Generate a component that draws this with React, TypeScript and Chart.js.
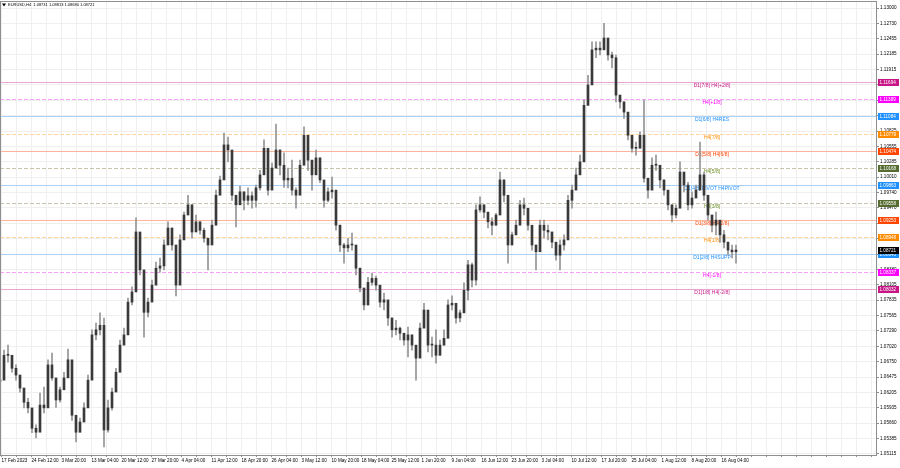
import React, { useEffect, useRef } from 'react';
import { Chart, registerables } from 'chart.js';

Chart.register(...registerables);

const TITLE = 'EURUSD,H4  1.08731 1.08813 1.08680 1.08721';

const TIME_LABELS = [
  '17 Feb 2023', '24 Feb 12:00', '3 Mar 20:00', '13 Mar 04:00', '20 Mar 12:00', '27 Mar 20:00',
  '4 Apr 04:00', '11 Apr 12:00', '18 Apr 20:00', '26 Apr 04:00', '3 May 12:00', '10 May 20:00',
  '18 May 04:00', '25 May 12:00', '1 Jun 20:00', '9 Jun 04:00', '16 Jun 12:00', '23 Jun 20:00',
  '3 Jul 04:00', '10 Jul 12:00', '17 Jul 20:00', '25 Jul 04:00', '1 Aug 12:00', '8 Aug 20:00', '16 Aug 04:00',
];

const PRICE_TICKS = [
  1.13, 1.1273, 1.12455, 1.12185, 1.11915, 1.11645, 1.1137, 1.111, 1.10825, 1.10555, 1.10285,
  1.1001, 1.0974, 1.0947, 1.09195, 1.08925, 1.0865, 1.0838, 1.08105, 1.07835, 1.07565, 1.0729,
  1.0702, 1.0675, 1.06475, 1.06205, 1.05935, 1.0566, 1.05385, 1.05115,
];

const FIRST_OPEN = 1.064;

const HIGHS = [
  1.0655, 1.0695, 1.0704, 1.0686, 1.0669, 1.0651, 1.0628, 1.061, 1.0589, 1.0563,
  1.0619, 1.063, 1.0678, 1.069, 1.0642, 1.063, 1.0656, 1.0697, 1.0672, 1.0563,
  1.0575, 1.0602, 1.0651, 1.0731, 1.0743, 1.0761, 1.0752, 1.0607, 1.0628, 1.0663,
  1.0713, 1.0734, 1.0787, 1.0807, 1.0929, 1.089, 1.0775, 1.0787, 1.0819, 1.0851,
  1.0858, 1.089, 1.0922, 1.0911, 1.0858, 1.0899, 1.0939, 1.0969, 1.0952, 1.0934,
  1.0922, 1.0911, 1.0893, 1.0925, 1.0978, 1.1003, 1.1079, 1.1072, 1.0996, 1.0969,
  1.0985, 1.0975, 1.0982, 1.0975, 1.0987, 1.1013, 1.1067, 1.1049, 1.1026, 1.1095,
  1.1049, 1.1044, 1.1017, 1.1031, 1.0982, 1.1031, 1.109, 1.1075, 1.1031, 1.1049,
  1.1035, 1.0983, 1.0982, 1.1001, 1.0952, 1.0916, 1.0884, 1.0893, 1.0902, 1.0877,
  1.084, 1.0798, 1.0824, 1.0831, 1.0826, 1.0805, 1.0796, 1.077, 1.0752, 1.0748,
  1.0736, 1.0725, 1.0736, 1.0722, 1.0699, 1.0743, 1.0778, 1.0731, 1.0718, 1.0731,
  1.0713, 1.0731, 1.0784, 1.0791, 1.0766, 1.0766, 1.0814, 1.0854, 1.0849, 1.0952,
  1.0966, 1.0952, 1.0939, 1.0929, 1.0937, 1.101, 1.0996, 1.0922, 1.0904, 1.0925,
  1.096, 1.0964, 1.0939, 1.0911, 1.0881, 1.0925, 1.0925, 1.0916, 1.0904, 1.0884,
  1.089, 1.0899, 1.0969, 1.0987, 1.1017, 1.104, 1.1137, 1.1181, 1.124, 1.124,
  1.124, 1.1273, 1.1243, 1.1222, 1.1217, 1.1146, 1.1134, 1.1105, 1.1075, 1.1063,
  1.1081, 1.1137, 1.0992, 1.1035, 1.104, 1.1017, 1.0996, 1.0975, 1.0952, 1.0952,
  1.1028, 1.1005, 1.0992, 1.0975, 1.0987, 1.1063, 1.101, 1.096, 1.0934, 1.0939,
  1.0922, 1.0907, 1.0886, 1.0881, 1.0881,
];

const LOWS = [
  1.0619, 1.0651, 1.0674, 1.0656, 1.0642, 1.0621, 1.0593, 1.0584, 1.0549, 1.054,
  1.0586, 1.0584, 1.0616, 1.0642, 1.0594, 1.0603, 1.063, 1.0669, 1.0571, 1.0533,
  1.055, 1.0575, 1.0616, 1.0681, 1.0713, 1.0722, 1.0524, 1.055, 1.0589, 1.063,
  1.0669, 1.0708, 1.0748, 1.0775, 1.084, 1.0828, 1.0718, 1.0754, 1.0787, 1.0826,
  1.0833, 1.0837, 1.0899, 1.0872, 1.0791, 1.0851, 1.0916, 1.0943, 1.0893, 1.0911,
  1.09, 1.0886, 1.0837, 1.089, 1.0943, 1.0978, 1.1035, 1.1028, 1.096, 1.0913,
  1.0957, 1.0943, 1.0952, 1.0946, 1.0948, 1.0978, 1.101, 1.0969, 1.0987, 1.1035,
  1.1005, 1.0983, 1.0982, 1.0969, 1.0946, 1.0975, 1.1044, 1.1013, 1.0978, 1.1017,
  1.0991, 1.0948, 1.0957, 1.0964, 1.0907, 1.0869, 1.0849, 1.0869, 1.0872, 1.0828,
  1.0798, 1.0766, 1.0775, 1.081, 1.0801, 1.0771, 1.0766, 1.0739, 1.0718, 1.0722,
  1.0713, 1.0704, 1.0683, 1.0695, 1.0642, 1.0713, 1.0754, 1.0692, 1.0683, 1.0672,
  1.0686, 1.0704, 1.0748, 1.0766, 1.0743, 1.0745, 1.0771, 1.0784, 1.0807, 1.081,
  1.0939, 1.0929, 1.0911, 1.0899, 1.0916, 1.0946, 1.0957, 1.0849, 1.0881, 1.0899,
  1.0925, 1.0934, 1.0907, 1.0872, 1.0837, 1.0886, 1.0893, 1.089, 1.0876, 1.0854,
  1.0837, 1.0872, 1.0911, 1.0946, 1.0987, 1.101, 1.1028, 1.1128, 1.1205, 1.1212,
  1.1217, 1.1229, 1.1208, 1.1194, 1.1134, 1.1123, 1.1105, 1.1067, 1.1045, 1.104,
  1.1058, 1.0992, 1.0964, 1.1005, 1.1013, 1.0982, 1.0969, 1.0943, 1.0922, 1.0929,
  1.0999, 1.0975, 1.0943, 1.0946, 1.0968, 1.0996, 1.096, 1.0925, 1.0904, 1.0899,
  1.0886, 1.0876, 1.0863, 1.0858, 1.0849,
];

const CLOSES = [
  1.0642, 1.0686, 1.0686, 1.0663, 1.0651, 1.0628, 1.0603, 1.0593, 1.0557, 1.055,
  1.0598, 1.0593, 1.0669, 1.0646, 1.0607, 1.0625, 1.0646, 1.0678, 1.058, 1.055,
  1.0568, 1.0593, 1.0642, 1.0722, 1.0731, 1.0739, 1.0554, 1.0593, 1.0621, 1.0656,
  1.0704, 1.0722, 1.078, 1.0798, 1.0904, 1.0837, 1.0762, 1.078, 1.081, 1.084,
  1.0844, 1.0881, 1.0911, 1.0881, 1.081, 1.089, 1.0934, 1.0952, 1.0904, 1.0922,
  1.0907, 1.0893, 1.0881, 1.0916, 1.0969, 1.0996, 1.1058, 1.1049, 1.0969, 1.0952,
  1.0975, 1.096, 1.0968, 1.096, 1.0982, 1.1005, 1.1052, 1.0978, 1.1017, 1.1049,
  1.1022, 1.0996, 1.0999, 1.0978, 1.0969, 1.1022, 1.1075, 1.1031, 1.1005, 1.1035,
  1.0996, 1.096, 1.0975, 1.0978, 1.0916, 1.0881, 1.0876, 1.0881, 1.0881, 1.084,
  1.0805, 1.0775, 1.0815, 1.0822, 1.081, 1.078, 1.0784, 1.0752, 1.0731, 1.0734,
  1.0725, 1.0713, 1.0722, 1.0704, 1.0681, 1.0734, 1.0766, 1.0704, 1.0704, 1.0686,
  1.0704, 1.0716, 1.0775, 1.0778, 1.0752, 1.0761, 1.0801, 1.0846, 1.0819, 1.0943,
  1.0952, 1.0939, 1.0922, 1.0916, 1.0934, 1.0996, 1.0969, 1.0881, 1.0899, 1.0916,
  1.0952, 1.0946, 1.0916, 1.0881, 1.0869, 1.0916, 1.0907, 1.0904, 1.0886, 1.0863,
  1.0881, 1.089, 1.096, 1.0978, 1.1005, 1.1028, 1.1128, 1.1164, 1.1226, 1.1229,
  1.1226, 1.1247, 1.1217, 1.1212, 1.1146, 1.1134, 1.1116, 1.1075, 1.1052, 1.1052,
  1.1075, 1.0999, 1.0978, 1.1022, 1.1022, 1.0996, 1.0978, 1.0952, 1.0934, 1.0946,
  1.101, 1.0987, 1.0952, 1.0964, 1.0978, 1.1005, 1.0969, 1.0934, 1.0916, 1.0925,
  1.0899, 1.0886, 1.0872, 1.0869, 1.08721,
];

const LEVEL_NAMES = [
  'D1[7/8] H4[+2/8]', 'H4[+1/8]', 'D1[6/8] H4RES', 'H4[7/8]', 'D1[5/8] H4[6/8]', 'H4[5/8]',
  'D1[4/8] PIVOT H4PIVOT', 'H4[3/8]', 'D1[3/8] H4[2/8]', 'H4[1/8]', 'D1[2/8] H4SUPP', 'H4[-1/8]', 'D1[1/8] H4[-2/8]',
];
const LEVEL_PRICES = [
  1.11694, 1.11389, 1.11084, 1.10779, 1.10474, 1.10168, 1.09863, 1.09558, 1.09253, 1.08948, 1.08643, 1.08337, 1.08032,
];

// styles (kept apart from data)
const PINK = { line: '#eaa6d2', text: '#c71585', tag: '#c71585', dash: false };
const MAGENTA = { line: '#f7a0f7', text: '#ff00ff', tag: '#ff00ff', dash: true };
const BLUE = { line: '#a9d1f7', text: '#1e90ff', tag: '#1e90ff', dash: false };
const ORANGE = { line: '#ffd5a0', text: '#ff8c00', tag: '#ff8c00', dash: true };
const ORANGERED = { line: '#ffb39b', text: '#ff4500', tag: '#ff4500', dash: false };
const OLIVE = { line: '#c9c3a8', text: '#6b8e23', tag: '#556b2f', dash: true };
const LEVEL_STYLES = [PINK, MAGENTA, BLUE, ORANGE, ORANGERED, OLIVE, BLUE, OLIVE, ORANGERED, ORANGE, BLUE, MAGENTA, PINK];

const FONT = '"Liberation Sans", Arial, sans-serif';
const Y_AXIS_W = 23;
const X_AXIS_H = 13;
const CANDLE_PX = 4;
const GRID_PX = 15;
const GRID_START_PX = 1.5;
const LABEL_CANDLE = 178;

export default function App() {
  const ref = useRef<HTMLCanvasElement | null>(null);

  useEffect(() => {
    document.body.style.margin = '0';
    const canvas = ref.current;
    if (!canvas) return;
    const W = 900;
    const plotW = W - Y_AXIS_W;
    const xMax = plotW / CANDLE_PX;

    const opens = [FIRST_OPEN, ...CLOSES.slice(0, -1)];
    const wicks = HIGHS.map((h, i) => ({ x: i, y: [LOWS[i], h] }));
    const bodies = CLOSES.map((c, i) => ({ x: i, y: [opens[i], c] }));

    const overlay = {
      id: 'mtOverlay',
      beforeDatasetsDraw(chart: any) {
        const { ctx, chartArea, scales } = chart;
        const x = scales.x;
        const y = scales.y;
        ctx.save();
        ctx.beginPath();
        ctx.rect(chartArea.left, chartArea.top, chartArea.right - chartArea.left, chartArea.bottom - chartArea.top);
        ctx.clip();
        LEVEL_PRICES.forEach((p, i) => {
          const st = LEVEL_STYLES[i];
          const py = Math.round(y.getPixelForValue(p)) + 0.5;
          ctx.strokeStyle = st.line;
          ctx.lineWidth = 1;
          ctx.setLineDash(st.dash ? [4, 2] : []);
          ctx.beginPath();
          ctx.moveTo(chartArea.left, py);
          ctx.lineTo(chartArea.right, py);
          ctx.stroke();
          ctx.setLineDash([]);
          ctx.fillStyle = st.text;
          ctx.font = '5px ' + FONT;
          ctx.textAlign = 'center';
          ctx.textBaseline = 'middle';
          ctx.fillText(LEVEL_NAMES[i], x.getPixelForValue(LABEL_CANDLE), py + 3);
        });
        ctx.restore();
      },
      afterDraw(chart: any) {
        const { ctx, chartArea, scales } = chart;
        const y = scales.y;
        ctx.save();
        ctx.strokeStyle = '#8f8f8f';
        ctx.lineWidth = 1;
        ctx.strokeRect(chartArea.left + 0.5, chartArea.top + 0.5, chartArea.right - chartArea.left - 1, chartArea.bottom - chartArea.top);
        const tag = (price: number, color: string) => {
          const py = y.getPixelForValue(price);
          ctx.fillStyle = color;
          ctx.fillRect(chartArea.right + 1, Math.round(py) - 3, 21, 7);
          ctx.fillStyle = '#ffffff';
          ctx.font = '4.6px ' + FONT;
          ctx.textAlign = 'left';
          ctx.textBaseline = 'middle';
          ctx.fillText(price.toFixed(5), chartArea.right + 2.5, Math.round(py) + 0.5);
        };
        LEVEL_PRICES.forEach((p, i) => tag(p, LEVEL_STYLES[i].tag));
        tag(CLOSES[CLOSES.length - 1], '#000000');
        ctx.fillStyle = '#000000';
        ctx.beginPath();
        ctx.moveTo(2, 3.5);
        ctx.lineTo(6, 3.5);
        ctx.lineTo(4, 6.5);
        ctx.closePath();
        ctx.fill();
        ctx.font = '4px ' + FONT;
        ctx.textAlign = 'left';
        ctx.textBaseline = 'middle';
        ctx.fillText(TITLE, 8, 5);
        ctx.restore();
      },
    };

    const chart = new Chart(canvas, {
      type: 'bar',
      data: {
        datasets: [
          { data: wicks as any, backgroundColor: '#949494', barThickness: 1, grouped: false, order: 2 } as any,
          { data: bodies as any, backgroundColor: '#3a3a3a', barThickness: 2, minBarLength: 1, grouped: false, order: 1 } as any,
        ],
      },
      options: {
        animation: false,
        responsive: false,
        devicePixelRatio: 1,
        events: [],
        layout: { padding: { top: 1, left: 0, right: 0, bottom: 0 } },
        plugins: { legend: { display: false }, tooltip: { enabled: false } },
        scales: {
          x: {
            type: 'linear',
            min: 0,
            max: xMax,
            offset: false,
            grid: { color: '#efefef', offset: false, tickLength: 2, tickColor: '#8f8f8f' },
            border: { display: false },
            afterBuildTicks: (s: any) => {
              const t: any[] = [];
              for (let i = 0; GRID_START_PX + GRID_PX * i < plotW; i++) {
                t.push({ value: (GRID_START_PX + GRID_PX * i) / CANDLE_PX });
              }
              s.ticks = t;
            },
            afterFit: (s: any) => {
              s.height = X_AXIS_H;
              s.paddingLeft = 0;
              s.paddingRight = 0;
            },
            ticks: {
              autoSkip: false,
              maxRotation: 0,
              minRotation: 0,
              align: 'start',
              padding: 1,
              color: '#000000',
              font: { family: FONT, size: 4.6 },
              callback: (_v: any, i: number) => (i % 2 === 0 && TIME_LABELS[i / 2] ? TIME_LABELS[i / 2] : ''),
            },
          },
          y: {
            type: 'linear',
            position: 'right',
            min: 1.05097,
            max: 1.13124,
            grid: { color: '#efefef', tickLength: 2, tickColor: '#8f8f8f' },
            border: { display: false },
            afterBuildTicks: (s: any) => {
              s.ticks = [...PRICE_TICKS].reverse().map((v) => ({ value: v }));
            },
            afterFit: (s: any) => {
              s.width = Y_AXIS_W;
              s.paddingTop = 0;
              s.paddingBottom = 0;
            },
            ticks: {
              padding: 1,
              color: '#000000',
              font: { family: FONT, size: 4.6 },
              callback: (v: any) => Number(v).toFixed(5),
            },
          },
        },
      } as any,
      plugins: [overlay as any],
    });
    return () => chart.destroy();
  }, []);

  return <canvas ref={ref} width={900} height={468} style={{ display: 'block', width: 900, height: 468 }} />;
}
